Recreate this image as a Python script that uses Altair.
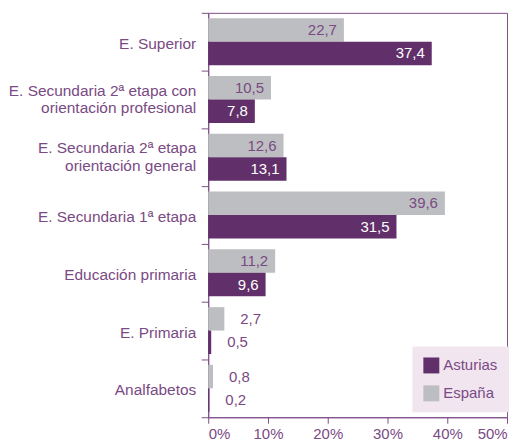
import altair as alt
import pandas as pd

categories = [
    "E. Superior",
    "E. Secundaria 2ª etapa con|orientación profesional",
    "E. Secundaria 2ª etapa|orientación general",
    "E. Secundaria 1ª etapa",
    "Educación primaria",
    "E. Primaria",
    "Analfabetos",
]
espana = [22.7, 10.5, 12.6, 39.6, 11.2, 2.7, 0.8]
asturias = [37.4, 7.8, 13.1, 31.5, 9.6, 0.5, 0.2]
series = ["Asturias", "España"]
x_ticks = [0, 10, 20, 30, 40, 50]

rows = []
for c, e, a in zip(categories, espana, asturias):
    rows.append({"cat": c, "serie": "España", "v": e})
    rows.append({"cat": c, "serie": "Asturias", "v": a})
df = pd.DataFrame(rows)
cat_df = pd.DataFrame({"cat": categories})

PURPLE = "#612f6a"
GREY = "#bdbec1"
TEXT = "#7a4a84"
AXIS = "#7d4f86"
FONT = "Liberation Sans"

y_enc = alt.Y(
    "cat:N",
    sort=categories,
    scale=alt.Scale(paddingInner=0, paddingOuter=0),
    axis=alt.Axis(
        title=None,
        labels=False,
        tickBand="extent",
        tickSize=7,
        tickColor=AXIS,
        domainColor=AXIS,
        grid=False,
    ),
)
yoff = alt.YOffset(
    "serie:N",
    sort=["España", "Asturias"],
    scale=alt.Scale(paddingInner=0, paddingOuter=0.23),
)
x_enc = alt.X(
    "v:Q",
    scale=alt.Scale(domain=[0, 50], nice=False),
    axis=alt.Axis(
        title=None,
        values=x_ticks,
        labelExpr="datum.value + '%'",
        labelFont=FONT,
        labelFontSize=15,
        labelColor=TEXT,
        labelPadding=3,
        tickSize=6,
        tickColor=AXIS,
        domainColor=AXIS,
        grid=False,
    ),
)

base = alt.Chart(df).transform_calculate(
    lab="replace(format(datum.v, '.1f'), '.', ',')"
)

bars = base.mark_bar(size=23.5).encode(
    y=y_enc,
    yOffset=yoff,
    x=x_enc,
    color=alt.Color(
        "serie:N",
        scale=alt.Scale(domain=series, range=[PURPLE, GREY]),
        legend=alt.Legend(
            title=None,
            orient="none",
            legendX=205,
            legendY=335,
            fillColor="#f1e5f0",
            padding=11,
            symbolType="square",
            symbolSize=256,
            symbolStrokeWidth=0,
            symbolOpacity=1,
            labelFont=FONT,
            labelFontSize=15,
            labelColor=TEXT,
            rowPadding=12,
            labelOffset=4,
        ),
    ),
)

inside = base.transform_filter("datum.v >= 5").mark_text(
    align="right", dx=-7, font=FONT, fontSize=15, baseline="middle"
).encode(
    y=alt.Y("cat:N", sort=categories),
    yOffset=alt.YOffset("serie:N", sort=["España", "Asturias"]),
    x="v:Q",
    text="lab:N",
    color=alt.condition(
        "datum.serie == 'Asturias'", alt.value("#ffffff"), alt.value(TEXT)
    ),
)

outside = base.transform_filter("datum.v < 5").mark_text(
    align="left", dx=16, font=FONT, fontSize=15, baseline="middle", color=TEXT
).encode(
    y=alt.Y("cat:N", sort=categories),
    yOffset=alt.YOffset("serie:N", sort=["España", "Asturias"]),
    x="v:Q",
    text="lab:N",
)

lab_base = alt.Chart(cat_df)
single = lab_base.transform_filter("indexof(datum.cat, '|') < 0").mark_text(
    align="right", baseline="middle", font=FONT, fontSize=15.5, color=TEXT, dy=2
).encode(
    y=alt.Y("cat:N", sort=categories),
    x=alt.value(-12),
    text="cat:N",
)
double = lab_base.transform_filter("indexof(datum.cat, '|') >= 0").mark_text(
    align="right", baseline="middle", font=FONT, fontSize=15.5, color=TEXT,
    dy=-9, lineBreak="|", lineHeight=17.5,
).encode(
    y=alt.Y("cat:N", sort=categories),
    x=alt.value(-12),
    text="cat:N",
)

chart = (
    alt.layer(bars, inside, outside, single, double)
    .properties(
        width=300,
        height=406,
        autosize=alt.AutoSizeParams(type="none"),
        padding={"left": 201, "top": 4, "right": 10, "bottom": 26},
    )
    .configure_view(stroke=AXIS, strokeWidth=1)
)

chart.save("out.html", embed_options={"renderer": "svg", "actions": False})
